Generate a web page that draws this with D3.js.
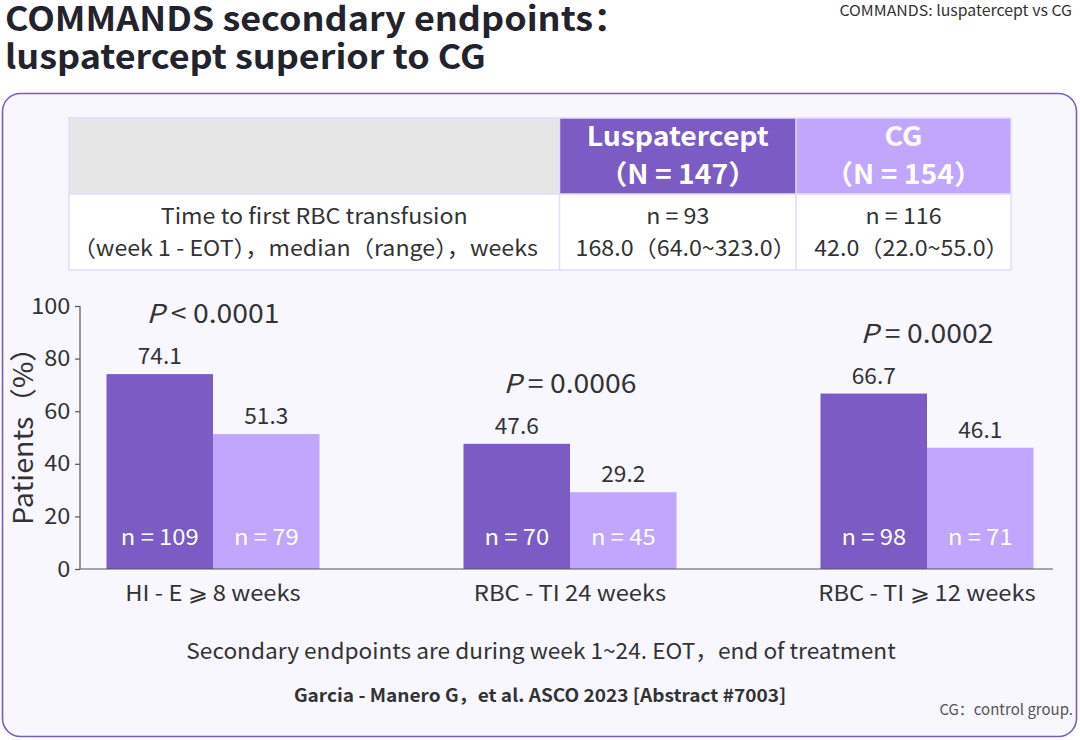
<!DOCTYPE html>
<html><head><meta charset="utf-8">
<script src="https://cdn.jsdelivr.net/npm/d3@7"></script>
<style>
html,body{margin:0;padding:0;background:#fff;}
svg{display:block;font-family:"Noto Sans CJK SC","Noto Sans",sans-serif;}
</style></head>
<body><svg id="c" width="1080" height="740"></svg>
<script>
const categories = ["HI - E \u2A7E 8 weeks", "RBC - TI 24 weeks", "RBC - TI \u2A7E 12 weeks"];
const series = ["Luspatercept", "CG"];
const luspValues = [74.1, 47.6, 66.7];
const cgValues = [51.3, 29.2, 46.1];
const luspN = [109, 70, 98];
const cgN = [79, 45, 71];
const pValues = ["< 0.0001", "= 0.0006", "= 0.0002"];
const yTicks = [0, 20, 40, 60, 80, 100];
const titleLines = ["COMMANDS secondary endpoints\uFF1A", "luspatercept superior to CG"];
const tableHeader = [["Luspatercept", "\uFF08N = 147\uFF09"], ["CG", "\uFF08N = 154\uFF09"]];
const tableRowLabel = ["Time to first RBC transfusion", "\uFF08week 1 - EOT\uFF09\uFF0Cmedian\uFF08range\uFF09\uFF0Cweeks"];
const tableRowValues = [["n = 93", "168.0\uFF0864.0~323.0\uFF09"], ["n = 116", "42.0\uFF0822.0~55.0\uFF09"]];

const C_DARK = "#7b5bc4", C_LIGHT = "#c1a6fd", TXT = "#333333";
const svg = d3.select("#c");

// text helper: positioned via transform, with horizontal stretch sx
function T(parent, x, y, str, size, o = {}) {
  const t = parent.append("text")
    .attr("transform", `translate(${x},${y}) scale(${o.sx || 1},1)`)
    .attr("text-anchor", o.anchor || "middle")
    .attr("font-size", size)
    .attr("font-weight", o.bold ? 700 : 400)
    .attr("fill", o.fill || TXT);
  if (str != null) t.text(str);
  return t;
}

// panel
svg.append("rect").attr("x", 2.5).attr("y", 93.5).attr("width", 1074).attr("height", 643)
  .attr("rx", 18).attr("fill", "#f8f7fe").attr("stroke", C_DARK).attr("stroke-width", 1.6);

// titles
const title = T(svg, 5, 31, null, 33, { anchor: "start", bold: true, sx: 1.09, fill: "#23232e" });
titleLines.forEach((t, i) => title.append("tspan").attr("x", 0).attr("y", i * 37.5).text(t));
T(svg, 1072, 16, "COMMANDS: luspatercept vs CG", 15, { anchor: "end", sx: 1.06 });

// table
const colX = [69, 559.5, 796, 1011];
const rowY = [118, 194, 270];
const grid = "#e2dbfb";
svg.append("rect").attr("x", colX[0]).attr("y", rowY[0]).attr("width", colX[1] - colX[0]).attr("height", rowY[1] - rowY[0]).attr("fill", "#e6e6e6");
[C_DARK, C_LIGHT].forEach((c, i) => {
  svg.append("rect").attr("x", colX[i + 1]).attr("y", rowY[0]).attr("width", colX[i + 2] - colX[i + 1]).attr("height", rowY[1] - rowY[0]).attr("fill", c);
});
svg.append("rect").attr("x", colX[0]).attr("y", rowY[1]).attr("width", colX[3] - colX[0]).attr("height", rowY[2] - rowY[1]).attr("fill", "#fff");
svg.append("rect").attr("x", colX[0]).attr("y", rowY[0]).attr("width", colX[3] - colX[0]).attr("height", rowY[2] - rowY[0])
  .attr("fill", "none").attr("stroke", grid).attr("stroke-width", 1.5);
svg.append("line").attr("x1", colX[0]).attr("x2", colX[3]).attr("y1", rowY[1]).attr("y2", rowY[1]).attr("stroke", grid).attr("stroke-width", 1.5);
[colX[1], colX[2]].forEach(x => svg.append("line").attr("x1", x).attr("x2", x).attr("y1", rowY[0]).attr("y2", rowY[2]).attr("stroke", grid).attr("stroke-width", 1.5));

tableHeader.forEach((lines, i) => {
  const cx = (colX[i + 1] + colX[i + 2]) / 2;
  lines.forEach((t, j) => T(svg, cx, 146 + j * 38, t, 27, { bold: true, fill: "#fff", sx: 1.05 }));
});
tableRowLabel.forEach((t, j) => T(svg, (colX[0] + colX[1]) / 2 - (j ? 9 : 0), 224 + j * 32, t, 22, { sx: 1.055 }));
tableRowValues.forEach((lines, i) => {
  const cx = (colX[i + 1] + colX[i + 2]) / 2;
  lines.forEach((t, j) => T(svg, cx + (j ? 8 : 0), 224 + j * 32, t, 22, { sx: 1.055 }));
});

// chart
const y = d3.scaleLinear().domain([0, 100]).range([569, 306]);
const x0 = d3.scaleBand().domain(categories).range([34.5, 1105.5]).padding(0);
const x1 = d3.scaleBand().domain(series).range([x0.bandwidth() / 2 - 106.5, x0.bandwidth() / 2 + 106.5]).padding(0);
const data = categories.map((c, i) => ({ cat: c, vals: [luspValues[i], cgValues[i]], ns: [luspN[i], cgN[i]], p: pValues[i] }));

const yAxis = svg.append("g").attr("transform", "translate(80,0)")
  .call(d3.axisLeft(y).tickValues(yTicks).tickSize(5).tickPadding(4));
yAxis.select(".domain").attr("stroke", "#555").attr("stroke-width", 1.2).attr("d", "M0,306V569");
yAxis.selectAll(".tick line").attr("stroke", "#555").attr("stroke-width", 1.2);
yAxis.selectAll(".tick text").attr("font-size", 22).attr("fill", TXT).attr("transform", "scale(1.07,1)")
  .attr("font-family", '"Noto Sans CJK SC","Noto Sans",sans-serif');

svg.append("text").attr("transform", "translate(33,429) rotate(-90) scale(1.06,1)").attr("text-anchor", "middle")
  .attr("font-size", 27).attr("fill", TXT).text("Patients\uFF08%\uFF09");

const g = svg.selectAll("g.grp").data(data).join("g").attr("class", "grp")
  .attr("transform", d => `translate(${x0(d.cat)},0)`);
g.selectAll("rect").data(d => d.vals.map((v, i) => ({ s: series[i], v }))).join("rect")
  .attr("x", d => x1(d.s)).attr("width", x1.bandwidth())
  .attr("y", d => y(d.v)).attr("height", d => y(0) - y(d.v))
  .attr("fill", d => d.s === "Luspatercept" ? C_DARK : C_LIGHT);
g.each(function (d) {
  const gg = d3.select(this);
  d.vals.forEach((v, i) => {
    const cx = x1(series[i]) + x1.bandwidth() / 2;
    T(gg, cx, y(v) - 10, v.toFixed(1), 22, { sx: 1.03 });
    T(gg, cx, y(0) - 24, "n = " + d.ns[i], 22, { fill: "#fff", sx: 1.08 });
  });
  const pt = T(gg, x0.bandwidth() / 2, y(d3.max(d.vals)) - 51, null, 26, { sx: 1.09 });
  pt.append("tspan").attr("font-style", "italic").text("P");
  pt.append("tspan").text(" " + d.p);
  T(gg, x0.bandwidth() / 2, 601, d.cat, 22, { sx: 1.08 });
});

svg.append("line").attr("x1", 80).attr("x2", 1053).attr("y1", y(0)).attr("y2", y(0)).attr("stroke", "#555").attr("stroke-width", 1.2);

// footer
T(svg, 541, 659, "Secondary endpoints are during week 1~24. EOT\uFF0Cend of treatment", 22, { sx: 1.03 });
T(svg, 540, 702, "Garcia - Manero G\uFF0Cet al. ASCO 2023 [Abstract #7003]", 18, { bold: true, sx: 1.06 });
T(svg, 1073, 715, "CG\uFF1Acontrol group.", 15, { anchor: "end", fill: "#555" });
</script></body></html>
